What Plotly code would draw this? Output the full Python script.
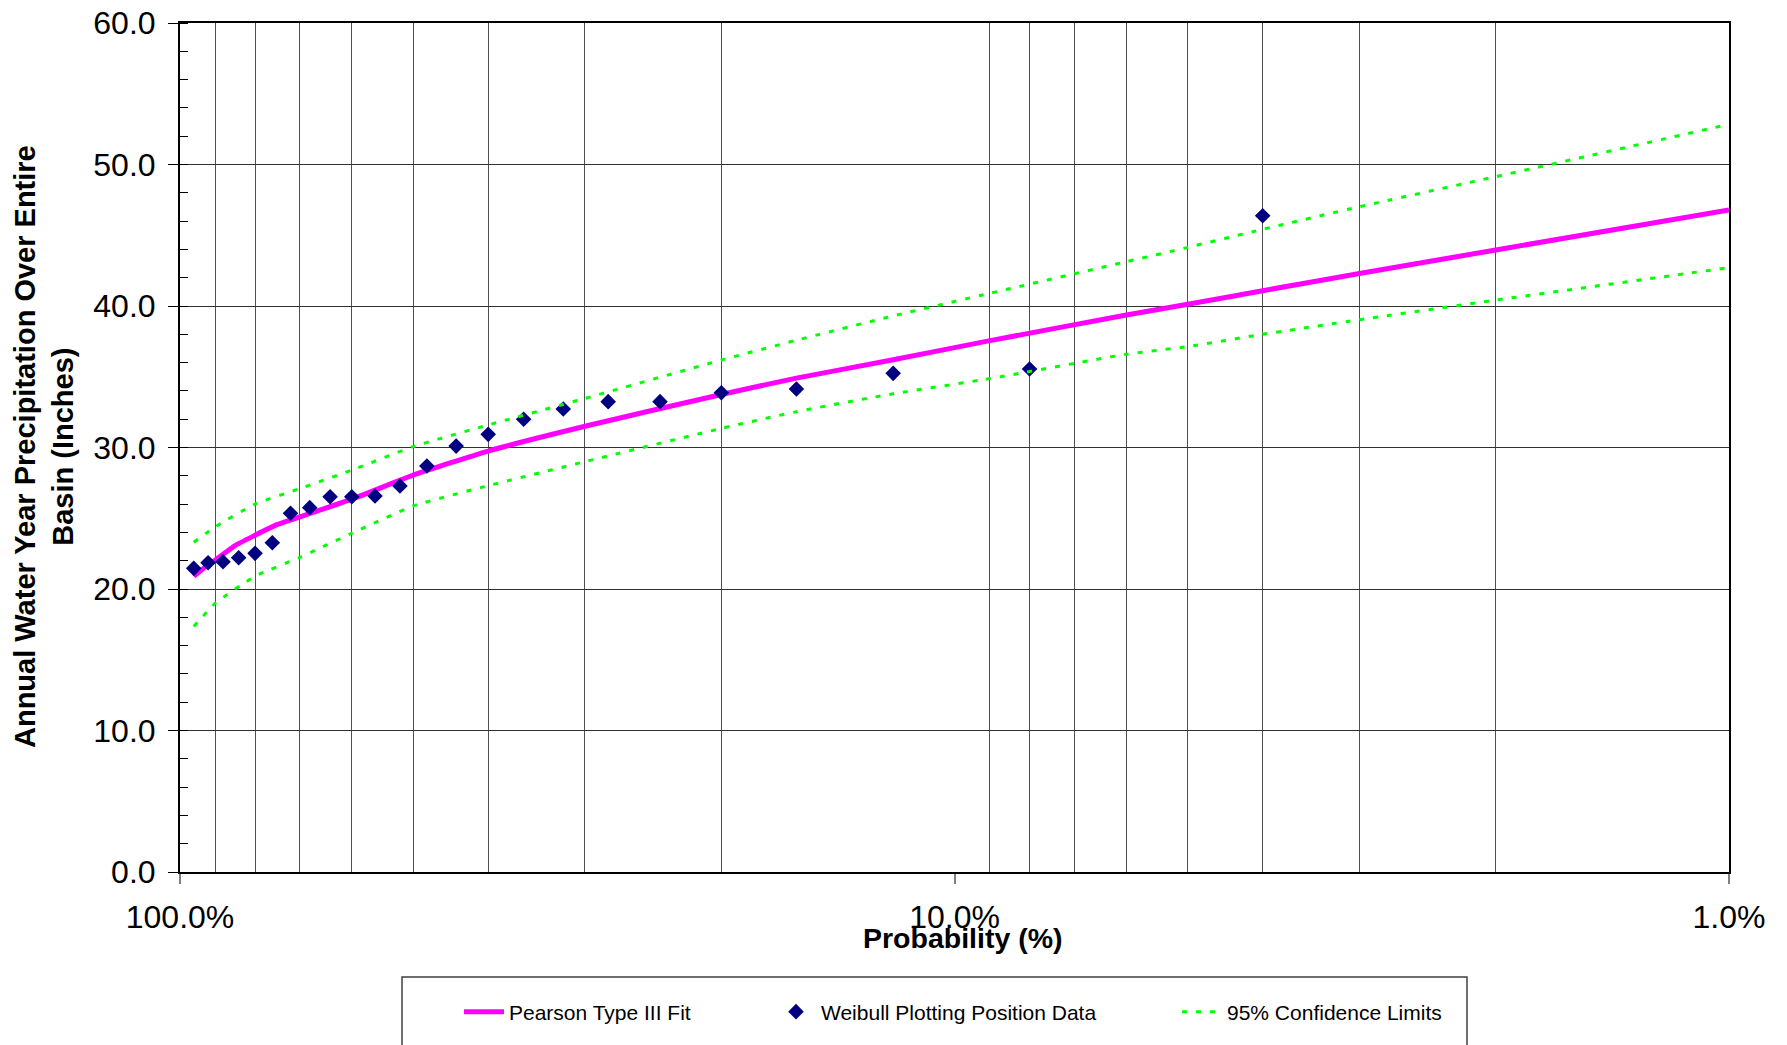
import plotly.graph_objects as go

# ---- data ----
weibull_prob = [96, 92, 88, 84, 80, 76, 72, 68, 64, 60, 56, 52, 48, 44, 40, 36, 32, 28, 24, 20, 16, 12, 8, 4]
weibull_vals = [21.46, 21.86, 21.93, 22.21, 22.52, 23.27, 25.35, 25.75, 26.52, 26.52, 26.57, 27.28,
                28.69, 30.1, 30.93, 32.0, 32.72, 33.24, 33.24, 33.87, 34.13, 35.24, 35.55, 46.38]

fit_prob = [96, 93, 90, 85, 80, 75, 70, 60, 50, 40, 30, 20, 16, 12, 9, 6, 5, 4, 3, 2, 1]
fit_vals = [20.9, 21.5, 22.05, 23.05, 23.8, 24.55, 25.1, 26.35, 28.05, 29.75, 31.5, 33.75,
            34.9, 36.2, 37.55, 39.36, 40.12, 41.08, 42.3, 43.96, 46.78]

cl_prob = [96, 90, 80, 70, 60, 50, 40, 30, 20, 16, 12, 9, 6, 5, 4, 3, 2, 1]
cl_upper = [23.3, 24.4, 26.0, 27.1, 28.4, 30.06, 31.59, 33.47, 36.18, 37.58, 39.3, 40.9,
            43.13, 44.14, 45.42, 47.02, 49.14, 52.84]
cl_lower = [17.35, 19.0, 20.9, 22.24, 23.94, 25.87, 27.3, 29.0, 31.35, 32.53, 33.8, 34.87,
            36.59, 37.13, 38.0, 39.03, 40.42, 42.71]

x_major = [100, 10, 1]
x_major_text = ["100.0%", "10.0%", "1.0%"]
x_grid = [90, 80, 70, 60, 50, 40, 30, 20, 9, 8, 7, 6, 5, 4, 3, 2]

FONT = "Liberation Sans, Arial, sans-serif"
OFF = 8  # page body margin offset

W, H = 1787, 1045
# target plot area in screenshot coordinates
PX0, PX1, PY0, PY1 = 180, 1729, 23, 872
L, T = PX0 - OFF, PY0 - OFF
R, B = W - (PX1 - OFF), H - (PY1 - OFF)
pw, ph = PX1 - PX0, PY1 - PY0


def px_x(x):  # screenshot x -> paper
    return (x - PX0) / pw


def px_y(y):  # screenshot y -> paper
    return (PY1 - y) / ph


fig = go.Figure()
fig.add_trace(go.Scatter(x=fit_prob, y=fit_vals, mode="lines", name="Pearson Type III Fit",
                         legend="legend",
                         line=dict(color="#FF00FF", width=5, shape="spline", smoothing=0.5)))
fig.add_trace(go.Scatter(x=weibull_prob, y=weibull_vals, mode="markers", name="Weibull Plotting Position Data",
                         legend="legend2",
                         marker=dict(symbol="diamond", color="#000080", size=12, line=dict(width=0))))
fig.add_trace(go.Scatter(x=cl_prob, y=cl_upper, mode="lines", name="95% Confidence Limits",
                         legend="legend3",
                         line=dict(color="#00FF00", width=3, dash="5px,9px", shape="spline", smoothing=0.5)))
fig.add_trace(go.Scatter(x=cl_prob, y=cl_lower, mode="lines", name="95% Confidence Limits",
                         showlegend=False, legend="legend3",
                         line=dict(color="#00FF00", width=3, dash="5px,9px", shape="spline", smoothing=0.5)))

leg_common = dict(orientation="h", xanchor="left", yanchor="middle", y=px_y(1012),
                  font=dict(size=21, family=FONT), bgcolor="rgba(0,0,0,0)", borderwidth=0,
                  itemwidth=40)

fig.update_layout(
    width=W, height=H,
    margin=dict(l=L, r=R, t=T, b=B, autoexpand=False),
    paper_bgcolor="white", plot_bgcolor="white",
    font=dict(family=FONT, color="black"),
    showlegend=True,
    legend=dict(x=px_x(509 - 50), **leg_common),
    legend2=dict(x=px_x(821 - 50), **leg_common),
    legend3=dict(x=px_x(1227 - 50), **leg_common),
    xaxis=dict(type="log", range=[2, 0], tickmode="array", tickvals=x_major, ticktext=x_major_text,
               ticks="outside", ticklen=10, tickcolor="#808080", tickwidth=2,
               tickfont=dict(size=32, family=FONT), ticklabelstandoff=6, ticklabeloverflow="allow",
               showgrid=False, showline=True, linecolor="black", linewidth=2, mirror=True,
               zeroline=False,
               minor=dict(tickmode="array", tickvals=x_grid, showgrid=True, gridcolor="#505050",
                          gridwidth=1, ticks="")),
    yaxis=dict(range=[0, 60], tickmode="linear", tick0=0, dtick=10, tickformat=".1f",
               ticks="outside", ticklen=10, tickcolor="black", tickwidth=1,
               tickfont=dict(size=32, family=FONT), ticklabelstandoff=6, ticklabeloverflow="allow",
               showgrid=True, gridcolor="#303030", gridwidth=1,
               showline=True, linecolor="black", linewidth=2, mirror=True, zeroline=False,
               minor=dict(dtick=2, ticks="inside", ticklen=8, tickcolor="black", showgrid=False)),
    annotations=[
        dict(text="Annual Water Year Precipitation Over Entire<br>Basin (Inches)",
             xref="paper", yref="paper", x=px_x(44), y=px_y(447), xanchor="center", yanchor="middle",
             textangle=-90, showarrow=False, align="center",
             font=dict(size=29, family=FONT, weight="bold")),
        dict(text="Probability (%)", xref="paper", yref="paper", x=px_x(963), y=px_y(938),
             xanchor="center", yanchor="middle", showarrow=False,
             font=dict(size=28.5, family=FONT, weight="bold")),
    ],
    shapes=[dict(type="rect", xref="paper", yref="paper", x0=px_x(402), x1=px_x(1467),
                 y0=px_y(977), y1=px_y(1070), line=dict(color="#404040", width=1.5),
                 fillcolor="rgba(0,0,0,0)", layer="above")],
)

fig.write_html("out.html")
